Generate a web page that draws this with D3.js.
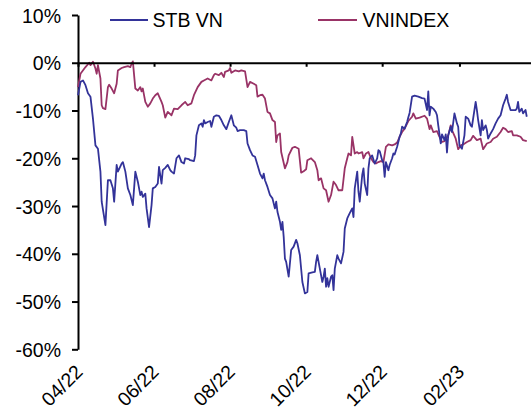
<!DOCTYPE html>
<html>
<head>
<meta charset="utf-8">
<script src="https://cdn.jsdelivr.net/npm/d3@7"></script>
<style>
  html, body { margin: 0; padding: 0; background: #fff; }
  svg { display: block; font-family: "Liberation Sans", Arial, sans-serif; }
</style>
</head>
<body>
<svg id="chart" width="531" height="412"></svg>
<script>
// ---- Data (cumulative performance, % ) ----
const seriesNames = ["STB VN", "VNINDEX"];
const seriesColors = ["#333399", "#993366"];

const stbDates = ["2022-04-01","2022-04-03","2022-04-05","2022-04-07","2022-04-09","2022-04-11","2022-04-13","2022-04-15","2022-04-17","2022-04-19","2022-04-20","2022-04-23","2022-04-25","2022-04-27","2022-04-29","2022-04-30",
"2022-05-02","2022-05-03","2022-05-06","2022-05-07","2022-05-09","2022-05-11","2022-05-13","2022-05-15","2022-05-17","2022-05-19","2022-05-21","2022-05-22","2022-05-23","2022-05-25","2022-05-26","2022-05-28","2022-05-30","2022-05-31",
"2022-06-02","2022-06-04","2022-06-05","2022-06-07","2022-06-08","2022-06-10","2022-06-12","2022-06-14","2022-06-15","2022-06-17","2022-06-19","2022-06-21","2022-06-23","2022-06-25","2022-06-26","2022-06-29","2022-06-30",
"2022-07-03","2022-07-04","2022-07-05","2022-07-07","2022-07-09","2022-07-10","2022-07-11","2022-07-12","2022-07-14","2022-07-16","2022-07-17","2022-07-19","2022-07-21","2022-07-23","2022-07-25","2022-07-27","2022-07-29","2022-07-31",
"2022-08-02","2022-08-04","2022-08-06","2022-08-07","2022-08-09","2022-08-12","2022-08-14","2022-08-15","2022-08-17","2022-08-19","2022-08-21","2022-08-23","2022-08-25","2022-08-27","2022-08-28","2022-08-29","2022-08-31",
"2022-09-02","2022-09-04","2022-09-06","2022-09-07","2022-09-08","2022-09-10","2022-09-11","2022-09-12","2022-09-13","2022-09-14","2022-09-15","2022-09-17","2022-09-19","2022-09-21","2022-09-23","2022-09-24","2022-09-26","2022-09-28","2022-09-30",
"2022-10-02","2022-10-03","2022-10-06","2022-10-08","2022-10-09","2022-10-10","2022-10-12","2022-10-14","2022-10-15","2022-10-16","2022-10-17","2022-10-18","2022-10-19","2022-10-21","2022-10-22","2022-10-23","2022-10-24","2022-10-26","2022-10-27","2022-10-29","2022-10-31",
"2022-11-01","2022-11-03","2022-11-05","2022-11-07","2022-11-08","2022-11-09","2022-11-11","2022-11-12","2022-11-13","2022-11-15","2022-11-16","2022-11-17","2022-11-19","2022-11-20","2022-11-21","2022-11-23","2022-11-25","2022-11-27","2022-11-28","2022-11-29",
"2022-12-01","2022-12-02","2022-12-03","2022-12-04","2022-12-06","2022-12-07","2022-12-09","2022-12-10","2022-12-11","2022-12-13","2022-12-15","2022-12-16","2022-12-17","2022-12-19","2022-12-21","2022-12-22","2022-12-23","2022-12-25","2022-12-27","2022-12-30",
"2023-01-02","2023-01-04","2023-01-06","2023-01-07","2023-01-08","2023-01-09","2023-01-11","2023-01-13","2023-01-14","2023-01-15","2023-01-17","2023-01-18","2023-01-20","2023-01-21","2023-01-22","2023-01-23","2023-01-25","2023-01-26","2023-01-28","2023-01-30","2023-01-31",
"2023-02-01","2023-02-03","2023-02-05","2023-02-06","2023-02-08","2023-02-10","2023-02-11","2023-02-14","2023-02-15","2023-02-16","2023-02-18","2023-02-19","2023-02-20","2023-02-22","2023-02-23","2023-02-24","2023-02-26","2023-02-28",
"2023-03-02","2023-03-04","2023-03-06","2023-03-08","2023-03-10","2023-03-11","2023-03-12","2023-03-14","2023-03-16","2023-03-18","2023-03-19","2023-03-20","2023-03-21","2023-03-23","2023-03-24","2023-03-26","2023-03-27"];
const stbValues = [-6.8,-4.0,-3.7,-4.7,-6.4,-7.1,-11.7,-17.3,-18.0,-22.8,-29.1,-34.0,-24.6,-24.6,-26.3,-29.1,
-21.4,-22.8,-21.1,-20.8,-22.8,-26.3,-27.7,-29.8,-22.8,-24.9,-27.7,-27.0,-28.1,-27.4,-30.5,-34.4,-29.8,-26.3,
-26.0,-25.3,-21.8,-25.3,-22.5,-22.0,-21.4,-22.5,-22.8,-23.2,-20.0,-19.4,-20.8,-21.1,-20.0,-20.2,-20.4,
-20.6,-19.4,-15.2,-13.1,-12.7,-13.4,-12.0,-12.7,-12.4,-12.2,-13.4,-11.3,-11.0,-11.1,-12.0,-13.1,-13.9,-12.4,
-11.0,-13.1,-13.6,-14.3,-14.1,-14.1,-14.3,-16.9,-18.3,-19.4,-19.7,-21.4,-23.2,-24.2,-23.2,-24.6,-26.0,
-27.7,-28.4,-30.5,-29.1,-31.2,-33.3,-35.0,-33.3,-36.4,-41.0,-41.7,-44.8,-39.2,-38.5,-37.1,-37.8,-40.3,-45.9,-48.3,
-48.0,-44.1,-43.9,-43.8,-41.7,-40.3,-43.1,-45.9,-44.8,-43.1,-46.9,-45.1,-46.9,-44.8,-44.5,-47.6,-43.1,-40.3,-41.0,-42.0,-39.6,
-34.7,-32.6,-31.5,-30.5,-32.3,-26.3,-22.8,-27.0,-29.1,-23.5,-22.1,-25.3,-27.7,-22.1,-20.0,-19.4,-21.1,-20.0,-18.3,-18.5,
-20.4,-20.8,-23.9,-20.8,-22.5,-21.4,-20.0,-19.0,-19.2,-17.6,-15.5,-14.8,-13.4,-13.8,-12.4,-11.4,-10.5,-7.1,-6.9,-7.1,
-7.4,-7.5,-9.9,-6.0,-11.0,-9.2,-9.6,-10.3,-11.0,-13.1,-16.9,-15.0,-16.2,-15.0,-18.8,-15.2,-13.4,-14.5,-10.6,-12.7,-13.4,
-17.3,-18.0,-15.2,-11.3,-11.7,-13.1,-13.4,-8.2,-9.9,-12.0,-15.2,-12.0,-14.1,-13.1,-14.1,-15.9,-14.8,-13.9,
-12.7,-11.7,-11.0,-8.9,-7.5,-6.7,-8.2,-9.9,-9.9,-9.9,-9.6,-8.2,-10.3,-9.6,-10.6,-9.9,-11.3];

const vniDates = ["2022-04-01","2022-04-03","2022-04-07","2022-04-10","2022-04-11","2022-04-13","2022-04-15","2022-04-16","2022-04-17","2022-04-19","2022-04-20","2022-04-21","2022-04-23","2022-04-25","2022-04-26","2022-04-28","2022-04-30",
"2022-05-02","2022-05-03","2022-05-06","2022-05-08","2022-05-11","2022-05-13","2022-05-14","2022-05-15","2022-05-17","2022-05-19","2022-05-21","2022-05-22","2022-05-23","2022-05-25","2022-05-27","2022-05-29","2022-05-31",
"2022-06-02","2022-06-04","2022-06-07","2022-06-08","2022-06-10","2022-06-12","2022-06-15","2022-06-17","2022-06-20","2022-06-23","2022-06-26","2022-06-28",
"2022-07-01","2022-07-03","2022-07-06","2022-07-09","2022-07-11","2022-07-14","2022-07-17","2022-07-19","2022-07-20","2022-07-23","2022-07-25","2022-07-27","2022-07-28","2022-07-31",
"2022-08-01","2022-08-02","2022-08-05","2022-08-08","2022-08-10","2022-08-13","2022-08-15","2022-08-17","2022-08-20","2022-08-22","2022-08-23","2022-08-25","2022-08-27","2022-08-29","2022-08-31",
"2022-09-02","2022-09-04","2022-09-06","2022-09-07","2022-09-08","2022-09-10","2022-09-11","2022-09-14","2022-09-16","2022-09-17","2022-09-20","2022-09-22","2022-09-25","2022-09-27","2022-09-29",
"2022-10-01","2022-10-02","2022-10-05","2022-10-08","2022-10-10","2022-10-11","2022-10-13","2022-10-15","2022-10-17","2022-10-19","2022-10-21","2022-10-23","2022-10-25","2022-10-27","2022-10-30",
"2022-11-01","2022-11-03","2022-11-04","2022-11-06","2022-11-07","2022-11-09","2022-11-11","2022-11-12","2022-11-15","2022-11-16","2022-11-18","2022-11-20","2022-11-22","2022-11-24","2022-11-26","2022-11-28","2022-11-30",
"2022-12-02","2022-12-04","2022-12-06","2022-12-09","2022-12-11","2022-12-13","2022-12-15","2022-12-17","2022-12-19","2022-12-22","2022-12-25","2022-12-26","2022-12-28","2022-12-31",
"2023-01-04","2023-01-06","2023-01-08","2023-01-09","2023-01-11","2023-01-14","2023-01-16","2023-01-18","2023-01-20","2023-01-23","2023-01-25","2023-01-26","2023-01-29","2023-01-31",
"2023-02-02","2023-02-04","2023-02-07","2023-02-10","2023-02-12","2023-02-15","2023-02-18","2023-02-20","2023-02-23","2023-02-26","2023-02-28",
"2023-03-03","2023-03-06","2023-03-08","2023-03-10","2023-03-12","2023-03-15","2023-03-16","2023-03-19","2023-03-22","2023-03-24","2023-03-27"];
const vniValues = [-5.1,-2.3,-0.9,0.0,-0.5,0.2,-1.2,-2.3,-0.5,-3.3,-8.9,-9.5,-9.7,-5.1,-4.6,-5.4,-6.4,
-4.4,-1.6,-1.1,-0.9,-0.7,-0.9,-0.2,0.3,-5.4,-5.8,-5.1,-6.0,-5.4,-8.2,-9.2,-8.5,-7.5,
-6.8,-6.4,-8.2,-8.9,-11.5,-10.3,-11.0,-9.6,-9.7,-8.9,-8.2,-8.9,
-8.5,-6.8,-5.1,-4.0,-3.7,-3.3,-3.7,-2.6,-2.3,-2.6,-2.1,-3.0,-1.9,-1.6,
-1.1,-2.1,-1.6,-1.8,-1.6,-1.8,-5.1,-4.0,-4.4,-4.7,-7.1,-6.8,-6.7,-7.5,-10.3,
-10.6,-12.0,-12.4,-16.6,-15.2,-14.8,-18.7,-22.1,-20.8,-19.4,-17.8,-17.6,-18.0,-23.0,-22.7,
-22.3,-20.4,-20.0,-20.8,-22.5,-24.6,-24.2,-26.3,-26.7,-29.1,-27.7,-24.9,-25.6,-26.7,-26.7,
-22.1,-20.0,-19.0,-19.4,-15.5,-19.0,-18.7,-19.0,-18.7,-20.0,-19.0,-18.7,-20.0,-20.8,-21.1,-20.8,-20.6,
-20.8,-17.6,-17.1,-17.3,-17.1,-16.7,-15.5,-14.5,-13.8,-12.2,-11.3,-10.6,-11.7,-11.5,
-11.1,-11.7,-13.9,-13.1,-14.5,-14.3,-15.5,-16.6,-16.4,-15.2,-13.1,-14.1,-15.9,-18.1,
-17.3,-17.1,-16.6,-16.2,-15.3,-16.2,-15.9,-18.1,-16.9,-16.6,-15.9,
-15.5,-14.5,-13.6,-13.9,-14.5,-14.3,-15.2,-15.2,-15.5,-16.2,-16.4];

const yTicks = [10, 0, -10, -20, -30, -40, -50, -60];
const xTickDates = ["2022-04-01","2022-06-01","2022-08-01","2022-10-01","2022-12-01","2023-02-01"];

// ---- Layout ----
const svg = d3.select("#chart");
const parse = d3.utcParse("%Y-%m-%d");
const fmt = d3.utcFormat("%m/%y");
const FONT = 19.5;

const x = d3.scaleUtc()
  .domain([parse("2022-04-01"), parse("2023-04-01")])
  .range([78, 533]);
const y = d3.scaleLinear().domain([-60, 10]).range([349.3, 15]);

const series = [
  { name: seriesNames[0], color: seriesColors[0], pts: stbDates.map((d, i) => ({ d: parse(d), v: stbValues[i] })) },
  { name: seriesNames[1], color: seriesColors[1], pts: vniDates.map((d, i) => ({ d: parse(d), v: vniValues[i] })) }
];

// Y axis
const yAxis = d3.axisLeft(y).tickValues(yTicks).tickSize(6).tickSizeOuter(0)
  .tickFormat(d => d + "%");
const gy = svg.append("g").attr("transform", "translate(78,0)").call(yAxis);
gy.select(".domain").attr("stroke", "#000").attr("stroke-width", 2);
gy.selectAll(".tick line").attr("stroke", "#000").attr("stroke-width", 2);
gy.selectAll(".tick text")
  .attr("x", -17).attr("dy", "0.36em")
  .attr("fill", "#000").style("font-size", FONT + "px")
  .style("font-family", "'Liberation Sans', Arial, sans-serif");

// Lines
const line = d3.line().x(p => x(p.d)).y(p => y(p.v));
series.slice().reverse().forEach(s => {
  svg.append("path").datum(s.pts)
    .attr("fill", "none").attr("stroke", s.color)
    .attr("stroke-width", 1.8).attr("stroke-linejoin", "round")
    .attr("d", line);
});

// X axis at 0%
const xAxis = d3.axisBottom(x).tickValues(xTickDates.map(parse)).tickSize(4).tickSizeOuter(0).tickFormat("");
const gx = svg.append("g").attr("transform", `translate(0,${y(0)})`).call(xAxis);
gx.select(".domain").attr("stroke", "#000").attr("stroke-width", 2);
gx.selectAll(".tick line").attr("stroke", "#000").attr("stroke-width", 2);

// X tick labels along the bottom, rotated
svg.append("g").selectAll("text").data(xTickDates.map(parse)).join("text")
  .attr("transform", d => `translate(${x(d) + 6},373) rotate(-45)`)
  .attr("text-anchor", "end")
  .style("font-size", FONT + "px")
  .attr("fill", "#000")
  .text(d => fmt(d));

// Legend
const legendPos = [{ x1: 110, x2: 148, tx: 152.5 }, { x1: 318, x2: 357, tx: 362.5 }];
series.forEach((s, i) => {
  const g = svg.append("g");
  g.append("line").attr("x1", legendPos[i].x1).attr("x2", legendPos[i].x2)
    .attr("y1", 20).attr("y2", 20).attr("stroke", s.color).attr("stroke-width", 2);
  g.append("text").attr("x", legendPos[i].tx).attr("y", 27.3)
    .style("font-size", FONT + "px").attr("fill", "#000").text(s.name);
});
</script>
</body>
</html>
